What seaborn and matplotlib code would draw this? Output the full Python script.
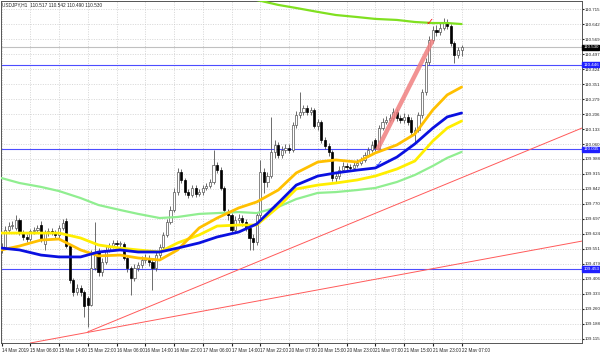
import numpy as np
import pandas as pd
import seaborn as sns
import matplotlib
matplotlib.use("Agg")
import matplotlib.pyplot as plt

# ---- candle data (USDJPY H1) ----
opens = [109.546, 109.560, 109.643, 109.662, 109.653, 109.691, 109.633, 109.609, 109.599, 109.638,
         109.643, 109.667, 109.575, 109.628, 109.638, 109.633, 109.619, 109.653, 109.687, 109.565,
         109.400, 109.342, 109.361, 109.342, 109.313, 109.279, 109.458, 109.536, 109.439, 109.487,
         109.546, 109.565, 109.580, 109.575, 109.575, 109.507, 109.458, 109.410, 109.458, 109.473,
         109.497, 109.507, 109.487, 109.458, 109.521, 109.560, 109.619, 109.682, 109.740, 109.827,
         109.925, 109.886, 109.827, 109.813, 109.847, 109.818, 109.827, 109.847, 109.857, 109.876,
         109.959, 109.934, 109.847, 109.725, 109.716, 109.643, 109.691, 109.701, 109.682, 109.653,
         109.604, 109.585, 109.716, 109.925, 109.876, 109.905, 110.022, 110.056, 110.007, 110.031,
         110.041, 110.031, 110.153, 110.201, 110.216, 110.235, 110.216, 110.226, 110.148, 110.167,
         110.080, 110.051, 110.022, 109.895, 109.905, 109.934, 109.954, 109.949, 109.944, 109.959,
         109.968, 109.983, 110.007, 110.031, 110.080, 110.041, 110.138, 110.167, 110.177, 110.187,
         110.216, 110.187, 110.177, 110.192, 110.177, 110.119, 110.129, 110.201, 110.313, 110.459,
         110.566, 110.614, 110.605, 110.624, 110.653, 110.634, 110.551, 110.493, 110.517]
highs = [109.580, 109.662, 109.682, 109.687, 109.716, 109.701, 109.643, 109.623, 109.648, 109.657,
         109.667, 109.687, 109.643, 109.653, 109.653, 109.643, 109.667, 109.696, 109.701, 109.575,
         109.410, 109.381, 109.376, 109.351, 109.322, 109.546, 109.682, 109.555, 109.507, 109.565,
         109.580, 109.594, 109.594, 109.589, 109.585, 109.517, 109.468, 109.478, 109.487, 109.517,
         109.526, 109.521, 109.502, 109.536, 109.575, 109.633, 109.696, 109.759, 109.847, 109.944,
         109.939, 109.895, 109.842, 109.861, 109.861, 109.842, 109.861, 109.871, 109.891, 110.031,
         109.973, 109.949, 109.857, 109.745, 109.725, 109.711, 109.721, 109.716, 109.696, 109.662,
         109.623, 109.730, 109.983, 109.944, 109.925, 110.192, 110.080, 110.070, 110.051, 110.061,
         110.061, 110.167, 110.221, 110.313, 110.250, 110.250, 110.240, 110.235, 110.182, 110.177,
         110.095, 110.065, 110.031, 109.925, 109.954, 109.973, 109.968, 109.963, 109.973, 109.988,
         109.997, 110.022, 110.046, 110.075, 110.090, 110.153, 110.187, 110.197, 110.206, 110.235,
         110.231, 110.201, 110.211, 110.206, 110.192, 110.143, 110.216, 110.328, 110.478, 110.585,
         110.634, 110.639, 110.653, 110.673, 110.668, 110.643, 110.561, 110.532, 110.542]
lows = [109.531, 109.551, 109.633, 109.648, 109.643, 109.619, 109.594, 109.585, 109.589, 109.623,
        109.633, 109.585, 109.546, 109.614, 109.619, 109.604, 109.604, 109.643, 109.555, 109.385,
        109.322, 109.327, 109.322, 109.220, 109.172, 109.274, 109.449, 109.419, 109.419, 109.478,
        109.536, 109.555, 109.560, 109.560, 109.497, 109.439, 109.327, 109.395, 109.444, 109.458,
        109.483, 109.468, 109.351, 109.444, 109.507, 109.551, 109.609, 109.672, 109.730, 109.813,
        109.871, 109.813, 109.798, 109.803, 109.803, 109.808, 109.813, 109.837, 109.847, 109.866,
        109.920, 109.837, 109.725, 109.691, 109.628, 109.628, 109.677, 109.662, 109.638, 109.546,
        109.546, 109.570, 109.701, 109.823, 109.852, 109.895, 109.993, 109.993, 109.993, 110.017,
        110.017, 110.022, 110.138, 110.187, 110.201, 110.201, 110.201, 110.138, 110.129, 110.065,
        110.036, 110.002, 109.881, 109.871, 109.891, 109.925, 109.934, 109.929, 109.934, 109.949,
        109.959, 109.973, 109.997, 110.022, 110.027, 110.031, 110.129, 110.158, 110.167, 110.172,
        110.172, 110.163, 110.163, 110.153, 110.104, 110.070, 110.119, 110.187, 110.299, 110.444,
        110.551, 110.585, 110.590, 110.614, 110.619, 110.537, 110.454, 110.478, 110.490]
closes = [109.560, 109.643, 109.662, 109.667, 109.691, 109.633, 109.609, 109.599, 109.638, 109.643,
          109.653, 109.594, 109.628, 109.638, 109.633, 109.619, 109.653, 109.677, 109.565, 109.400,
          109.342, 109.361, 109.342, 109.274, 109.279, 109.458, 109.521, 109.439, 109.487, 109.546,
          109.565, 109.580, 109.575, 109.580, 109.507, 109.458, 109.410, 109.458, 109.473, 109.497,
          109.507, 109.487, 109.458, 109.521, 109.560, 109.619, 109.682, 109.740, 109.827, 109.925,
          109.886, 109.827, 109.813, 109.847, 109.818, 109.827, 109.847, 109.857, 109.876, 109.959,
          109.934, 109.847, 109.740, 109.716, 109.643, 109.691, 109.701, 109.682, 109.653, 109.604,
          109.585, 109.716, 109.925, 109.876, 109.905, 110.022, 110.056, 110.007, 110.031, 110.041,
          110.031, 110.153, 110.201, 110.216, 110.235, 110.216, 110.226, 110.148, 110.167, 110.080,
          110.051, 110.022, 109.895, 109.905, 109.934, 109.954, 109.949, 109.944, 109.959, 109.968,
          109.983, 110.007, 110.031, 110.056, 110.041, 110.138, 110.167, 110.177, 110.187, 110.216,
          110.187, 110.177, 110.192, 110.167, 110.119, 110.129, 110.201, 110.313, 110.459, 110.566,
          110.614, 110.605, 110.624, 110.653, 110.634, 110.551, 110.493, 110.517, 110.530]

# ---- moving averages, sampled at these bars ----
ma_bars = [0, 5, 11, 16, 22, 27, 33, 38, 44, 49, 55, 60, 66, 71, 77, 82, 88, 93, 99, 104, 110, 115, 120, 124, 128]
ma_gold = [109.546, 109.565, 109.594, 109.599, 109.546, 109.517, 109.521, 109.507, 109.497, 109.546,
           109.653, 109.701, 109.750, 109.779, 109.837, 109.920, 109.973, 109.983, 109.973, 110.017,
           110.056, 110.109, 110.226, 110.299, 110.337]
ma_yellow = [109.628, 109.628, 109.628, 109.628, 109.604, 109.570, 109.555, 109.546, 109.536, 109.580,
             109.619, 109.662, 109.667, 109.667, 109.755, 109.842, 109.861, 109.871, 109.886, 109.905,
             109.939, 109.978, 110.075, 110.138, 110.172]
ma_blue = [109.555, 109.546, 109.521, 109.512, 109.512, 109.536, 109.546, 109.536, 109.536, 109.555,
           109.580, 109.609, 109.633, 109.672, 109.774, 109.861, 109.905, 109.920, 109.934, 109.944,
           109.997, 110.061, 110.138, 110.192, 110.211]
ma_lightgreen = [109.895, 109.871, 109.852, 109.832, 109.798, 109.764, 109.740, 109.721, 109.701, 109.706,
                 109.721, 109.725, 109.730, 109.725, 109.755, 109.793, 109.823, 109.827, 109.837, 109.847,
                 109.876, 109.910, 109.954, 109.993, 110.022]
top_bars = [66, 71, 77, 82, 88, 93, 99, 104, 110, 115, 120, 124, 128]
ma_topgreen = [110.799, 110.760, 110.736, 110.721, 110.702, 110.687, 110.677, 110.668, 110.663,
               110.653, 110.648, 110.648, 110.643]

# ---- objects ----
hlines_blue = [110.446, 110.035, 109.453]
price_now = 110.530
trend_a_x, trend_a_y = [24, 161.5], [109.148, 110.138]
trend_b_x, trend_b_y = [8, 161.5], [109.094, 109.589]
thick_x, thick_y = [104.5, 120], [110.031, 110.566]
check_blue = (105, 109.962)
check_red = (119, 110.655)

price_labels = ["110.715", "110.642", "110.569", "110.497", "110.424", "110.351", "110.279", "110.206",
                "110.133", "110.060", "109.988", "109.915", "109.842", "109.770", "109.697", "109.624",
                "109.551", "109.479", "109.406", "109.333", "109.260", "109.188", "109.115"]
time_labels = ["14 May 2019", "15 May 06:00", "15 May 14:00", "15 May 22:00", "16 May 06:00",
               "16 May 14:00", "16 May 22:00", "17 May 06:00", "17 May 14:00", "17 May 22:00",
               "20 May 07:00", "20 May 15:00", "20 May 23:00", "21 May 07:00", "21 May 15:00",
               "21 May 23:00", "22 May 07:00"]
time_label_bars = [0, 8, 16, 24, 32, 40, 48, 56, 64, 72, 80, 88, 96, 104, 112, 120, 128]

df = pd.DataFrame({"open": opens, "high": highs, "low": lows, "close": closes})
df["bar"] = np.arange(len(df))
up = df["close"] >= df["open"]

sns.set_style("white")
plt.rcParams["font.family"] = ["Liberation Sans", "DejaVu Sans"]
FS = 3.2

fig = plt.figure(figsize=(6, 3.52), dpi=100)
ax = fig.add_axes([1 / 600, 9 / 352, 581 / 600, 342 / 352])

# horizontal objects
for p in hlines_blue:
    ax.axhline(p, color="#4d4dff", lw=0.8, zorder=1)
ax.axhline(price_now, color="#c0c0c0", lw=0.8, zorder=1)

# trend lines
ax.plot(trend_a_x, trend_a_y, color="#ff5a5a", lw=0.7, zorder=1)
ax.plot(trend_b_x, trend_b_y, color="#ff5a5a", lw=0.7, zorder=1)

# candles
ax.vlines(df["bar"], df["low"], df["high"], color="#555555", lw=0.6, zorder=2)
ax.bar(df["bar"][up], (df["close"] - df["open"])[up], bottom=df["open"][up], width=0.6,
       color="white", edgecolor="#555555", linewidth=0.5, zorder=3)
ax.bar(df["bar"][~up], (df["open"] - df["close"])[~up], bottom=df["close"][~up], width=0.6,
       color="black", edgecolor="black", linewidth=0.5, zorder=3)

# moving averages
sns.lineplot(x=ma_bars, y=ma_lightgreen, ax=ax, color="#90ee90", lw=1.6, zorder=4)
sns.lineplot(x=ma_bars, y=ma_yellow, ax=ax, color="#ffee00", lw=2.0, zorder=4)
sns.lineplot(x=ma_bars, y=ma_gold, ax=ax, color="#ffc000", lw=2.0, zorder=4)
sns.lineplot(x=ma_bars, y=ma_blue, ax=ax, color="#0a10e0", lw=2.0, zorder=5)
sns.lineplot(x=top_bars, y=ma_topgreen, ax=ax, color="#80e020", lw=1.6, zorder=4)

# thick highlight line and check marks
ax.plot(thick_x, thick_y, color="#f08080", lw=3.2, alpha=0.85, solid_capstyle="butt", zorder=4)
ax.text(check_blue[0], check_blue[1], "\u2713", color="#1030ff", fontsize=7, ha="center", va="center",
        family="DejaVu Sans", zorder=6)
ax.text(check_red[0], check_red[1], "\u2713", color="#ff1010", fontsize=7, ha="center", va="center",
        family="DejaVu Sans", zorder=6)

# axes
ax.set_xlim(-0.14, 161.5)
ax.set_ylim(109.094, 110.755)
ax.yaxis.tick_right()
ax.set_yticks([float(s) for s in price_labels])
ax.set_yticklabels(price_labels)
ax.set_xticks(time_label_bars)
ax.set_xticklabels(time_labels)
for lbl in ax.get_xticklabels():
    lbl.set_ha("left")
ax.tick_params(axis="y", labelsize=FS, length=1.5, pad=0.5, colors="#222222", right=True)
ax.tick_params(axis="x", labelsize=3.3, length=2, pad=1.5, colors="#222222", bottom=True)
ax.grid(True, color="#c8c8c8", linestyle=(0, (1.5, 2)), linewidth=0.5)
ax.set_axisbelow(True)
for s in ax.spines.values():
    s.set_color("#555555")
    s.set_linewidth(0.7)
ax.set_xlabel("")
ax.set_ylabel("")

# price tags on the right axis
trans = ax.get_yaxis_transform()
ax.text(1.002, price_now, "110.530", transform=trans, fontsize=FS, color="white", va="center",
        bbox=dict(facecolor="black", edgecolor="black", pad=0.5), zorder=10, clip_on=False)
for p in hlines_blue:
    ax.text(1.002, p, f"{p:.3f}", transform=trans, fontsize=FS, color="white", va="center",
            bbox=dict(facecolor="#2020ff", edgecolor="#2020ff", pad=0.5), zorder=10, clip_on=False)

fig.text(2 / 600, 1 - 5 / 352, "USDJPY,H1  110.517 110.542 110.490 110.530", fontsize=3.4,
         color="#222222", va="center", ha="left")

fig.savefig("out.png", dpi=100)
